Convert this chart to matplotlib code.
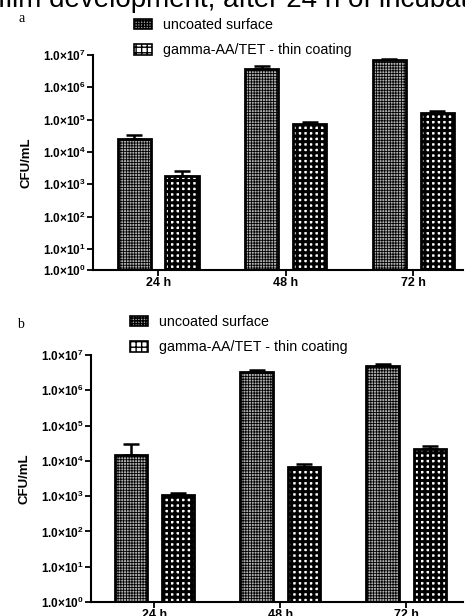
import matplotlib
matplotlib.use('Agg')
import matplotlib.pyplot as plt
import matplotlib.patches as mpatches
import numpy as np

plt.rcParams['font.family'] = ['Liberation Sans', 'DejaVu Sans']
plt.rcParams['mathtext.fontset'] = 'custom'
plt.rcParams['mathtext.rm'] = 'Liberation Sans'
plt.rcParams['mathtext.bf'] = 'Liberation Sans:bold'

times = ['24 h', '48 h', '72 h']
series = ['uncoated surface', 'gamma-AA/TET - thin coating']

# panel a
a_uncoated = [2.6e4, 3.8e6, 6.9e6]
a_uncoated_err = [7e3, 7e5, 8e5]
a_coated = [1.8e3, 7.2e4, 1.6e5]
a_coated_err = [7e2, 1.5e4, 2.5e4]

# panel b
b_uncoated = [1.5e4, 3.3e6, 4.8e6]
b_uncoated_err = [1.6e4, 4e5, 6e5]
b_coated = [1.1e3, 6.5e3, 2.1e4]
b_coated_err = [1.5e2, 1.9e3, 5e3]

exponents = [0, 1, 2, 3, 4, 5, 6, 7]

styles = [dict(facecolor='#b0b0b0', hatch='++++++', lw_hatch=0.6),
          dict(facecolor='white', hatch='+++', lw_hatch=2.2)]


def hatched(st, make):
    # hatch linewidth is taken from rcParams when the artist is made
    with plt.rc_context({'hatch.linewidth': st['lw_hatch']}):
        art = make()
    return art


fig = plt.figure(figsize=(4.65, 6.16), dpi=100)

# caption line of the page, cut at the top edge
fig.text(0.54, 1 - 7 / 616, 'film development, after 24 h of incubation',
         ha='center', va='baseline', fontsize=20)


def draw_panel(rect, up, up_err, co, co_err, ybottom, xlim, label, leg_pos):
    ax = fig.add_axes(rect)
    ax.set_yscale('log')
    x = np.arange(len(times))
    w = 0.26
    off = 0.187
    for vals, errs, sign, st in [(up, up_err, -1, styles[0]), (co, co_err, 1, styles[1])]:
        heights = np.array(vals) - ybottom
        bars = hatched(st, lambda: ax.bar(x + sign * off, heights, w, bottom=ybottom,
                                          facecolor=st['facecolor'], edgecolor='black',
                                          hatch=st['hatch'], linewidth=2.0, zorder=2))
        for b in bars:
            if hasattr(b, 'set_hatch_linewidth'):
                b.set_hatch_linewidth(st['lw_hatch'])
        ax.errorbar(x + sign * off, vals, yerr=[np.zeros(len(errs)), errs],
                    fmt='none', ecolor='black', elinewidth=1.8, capsize=6,
                    capthick=1.8, zorder=1)
    ax.set_ylim(ybottom, 1e7)
    ax.set_xlim(*xlim)
    ticks = [ybottom] + [10.0 ** e for e in exponents[1:]]
    ax.set_yticks(ticks)
    ax.set_yticklabels([r'$\mathbf{1.0{\times}10^{%d}}$' % e for e in exponents],
                       fontsize=8.5)
    ax.yaxis.set_minor_locator(matplotlib.ticker.NullLocator())
    ax.set_xticks(x)
    ax.set_xticklabels(times, fontsize=9, fontweight='bold')
    ax.tick_params(axis='y', length=4, width=1.3, pad=1)
    ax.tick_params(axis='x', length=4, width=1.3, pad=1)
    for s in ['top', 'right']:
        ax.spines[s].set_visible(False)
    for s in ['left', 'bottom']:
        ax.spines[s].set_linewidth(1.5)
    ax.set_ylabel('CFU/mL', fontsize=9.5, fontweight='bold', labelpad=8)
    fig.text(label[0], label[1], label[2], family=['Liberation Serif', 'DejaVu Serif'],
             fontsize=10, ha='left', va='center')
    handles = []
    for st in styles:
        p = hatched(st, lambda: mpatches.Patch(facecolor=st['facecolor'], edgecolor='black',
                                               hatch=st['hatch'], linewidth=1.2))
        if hasattr(p, 'set_hatch_linewidth'):
            p.set_hatch_linewidth(st['lw_hatch'] * 0.7)
        handles.append(p)
    fig.legend(handles, series, loc='upper left', bbox_to_anchor=leg_pos,
               frameon=False, fontsize=10.3, handlelength=1.25, handleheight=0.75,
               handletextpad=0.8, labelspacing=0.8, borderpad=0, borderaxespad=0)
    return ax


draw_panel([93 / 465, 1 - 270 / 616, 370 / 465, 215 / 616],
           a_uncoated, a_uncoated_err, a_coated, a_coated_err,
           10 ** 0.35, (-0.51, 2.39), (18 / 465, 1 - 18 / 616, 'a'),
           (134 / 465, 1 - 18 / 616))
draw_panel([91 / 465, 1 - 602 / 616, 372 / 465, 247 / 616],
           b_uncoated, b_uncoated_err, b_coated, b_coated_err,
           1.0, (-0.504, 2.45), (17 / 465, 1 - 325 / 616, 'b'),
           (130 / 465, 1 - 315 / 616))

fig.savefig('out.png', dpi=100)
